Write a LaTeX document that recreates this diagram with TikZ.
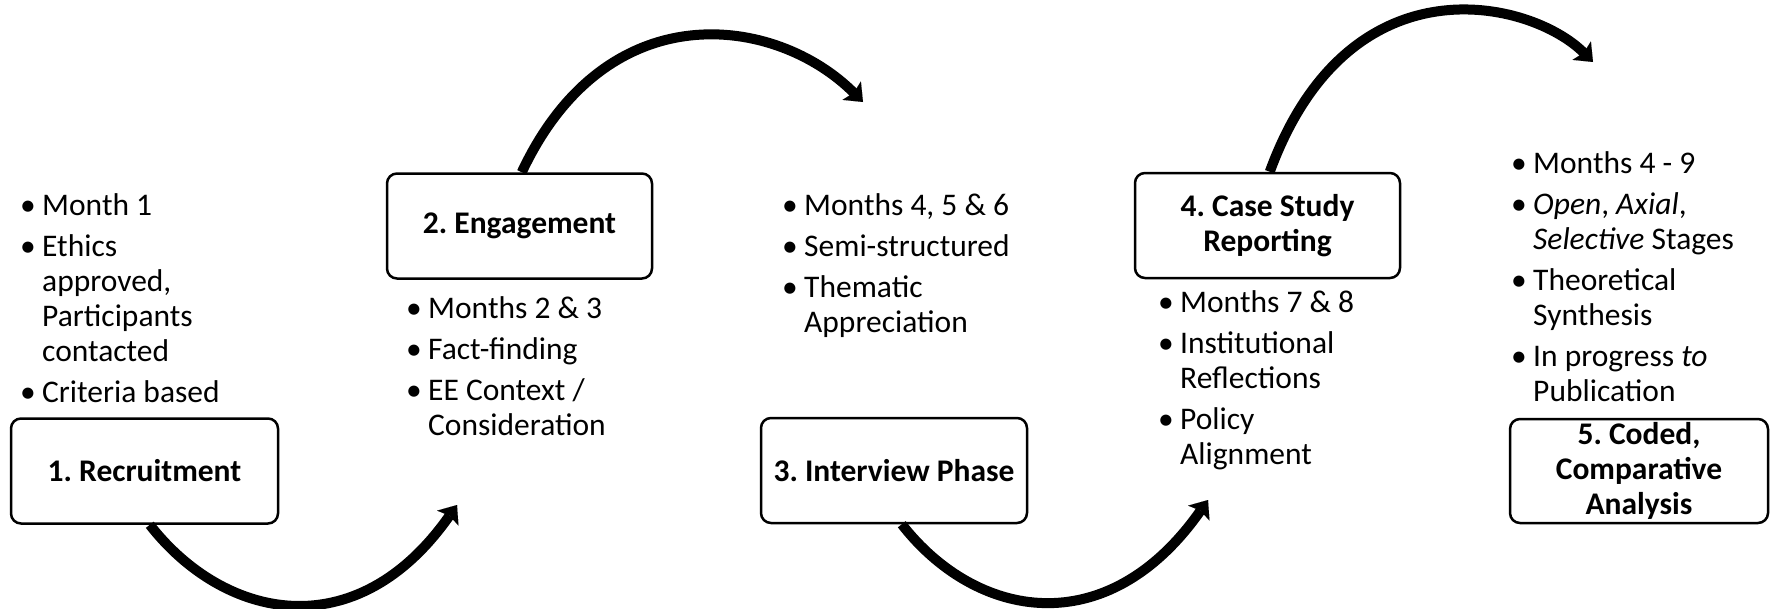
\documentclass[tikz,border=0pt]{standalone}
\usepackage{fontspec}
\setmainfont{Carlito}
\usetikzlibrary{arrows.meta}
\frenchspacing
% first item of a list (no leading \par), later items
\newcommand{\bfirst}[1]{\hangindent=22pt\hangafter=1\noindent\makebox[22pt][l]{•}#1\par}
\newcommand{\bitem}[1]{\hangindent=22pt\hangafter=1\noindent\makebox[22pt][l]{•}#1\par}
\newcommand{\bodyfont}{\fontsize{31.5}{35}\selectfont\frenchspacing}
\newcommand{\listsetup}{\spaceskip=0pt\xspaceskip=0pt\parindent=0pt\setlength{\parskip}{6pt}}
\begin{document}
\begin{tikzpicture}[x=1pt,y=-1pt,
  stage/.style={draw=black, line width=2.5pt, rounded corners=10pt, fill=white,
    minimum width=265pt, minimum height=105pt, inner sep=2pt, align=flush center,
    font=\bodyfont\bfseries},
  bullets/.style={anchor=base west, inner sep=0pt, text width=300pt,
    font=\bodyfont},
  flow/.style={line width=10pt,
    -{Stealth[length=16pt,width=26pt,inset=3pt,line width=0.01pt]}}]
\useasboundingbox (0,0) rectangle (1771,608);
\fill[white] (0,0) rectangle (1771,608);

% stage boxes
\node[stage, minimum width=267pt] (s1) at (144.5,471) {1. Recruitment};
\node[stage] (s2) at (519.5,226) {2. Engagement};
\node[stage, minimum width=266pt] (s3) at (894,470.5) {3. Interview Phase};
\node[stage] (s4) at (1267.5,225.5) {4. Case Study\\Reporting};
\node[stage, minimum width=258pt, minimum height=104pt] (s5) at (1639,471)
  {5. Coded,\\Comparative\\Analysis};

% bullet lists
\node[bullets] (l1) at (20,215) {\listsetup
  \bfirst{Month 1}\bitem{Ethics\newline approved,\newline Participants\newline contacted}%
  \bitem{Criteria based}};
\node[bullets] (l2) at (406,318) {\listsetup
  \bfirst{Months 2 \& 3}\bitem{Fact-finding}\bitem{EE Context /\newline Consideration}};
\node[bullets] (l3) at (782,215) {\listsetup
  \bfirst{Months 4, 5 \& 6}\bitem{Semi-structured}\bitem{Thematic\newline Appreciation}};
\node[bullets] (l4) at (1158,312) {\listsetup
  \bfirst{Months 7 \& 8}\bitem{Institutional\newline Reflections}\bitem{Policy\newline Alignment}};
\node[bullets] (l5) at (1511,173) {\listsetup
  \bfirst{Months 4 - 9}\bitem{\textit{Open}, \textit{Axial},\newline \textit{Selective} Stages}%
  \bitem{Theoretical\newline Synthesis}\bitem{In progress \textit{to}\newline Publication}};

% arrow ends
\coordinate (e1) at (457,505);
\coordinate (e2) at (863,102);
\coordinate (e3) at (1208,500);
\coordinate (e4) at (1593,62);

% curved arrows
\draw[flow] ([xshift=140pt]s1.south west) .. controls +(74,95) and +(-101,144) .. (e1);
\draw[flow] ([xshift=136pt]s2.north west) .. controls +(85,-181) and +(-87,-87) .. (e2);
\draw[flow] ([xshift=142pt]s3.south west) .. controls +(74,95) and +(-101,144) .. (e3);
\draw[flow] ([xshift=136pt]s4.north west) .. controls +(79,-216) and +(-62,-62) .. (e4);
\end{tikzpicture}
\end{document}
